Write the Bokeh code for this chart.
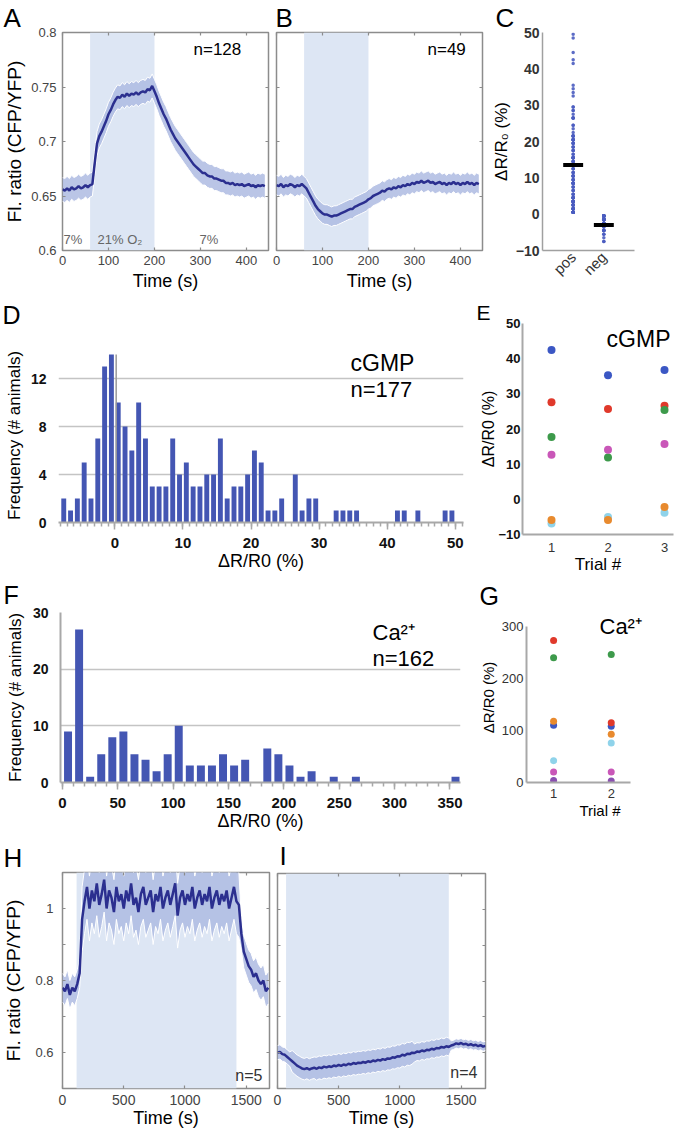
import math
from bokeh.plotting import figure
from bokeh.layouts import row, column
from bokeh.models import Range1d, LinearAxis, FixedTicker, SingleIntervalTicker, Label, Title
from bokeh.embed import file_html
from bokeh.resources import INLINE

FONT = "Liberation Sans"
TRACE = "#2b2f8f"
BAND = "#aebbe2"
SHADE = "#dde6f4"
BAR = "#4456b3"
GRAY = "#8c8c8c"
GRID = "#c4c4c4"

# ---------------- data ----------------
A_mean = [0.656, 0.655, 0.657, 0.655, 0.658, 0.656, 0.657, 0.659, 0.657, 0.658,
          0.660, 0.658, 0.660, 0.661, 0.680, 0.698, 0.705, 0.709, 0.714, 0.719,
          0.725, 0.729, 0.734, 0.738, 0.741, 0.740, 0.743, 0.741, 0.744, 0.742,
          0.744, 0.743, 0.745, 0.743, 0.745, 0.746, 0.745, 0.748, 0.747, 0.751,
          0.746, 0.741, 0.735, 0.730, 0.725, 0.721, 0.716, 0.711, 0.707, 0.703,
          0.700, 0.697, 0.694, 0.691, 0.688, 0.685, 0.682, 0.679, 0.677, 0.675,
          0.673, 0.671, 0.671, 0.669, 0.668, 0.668, 0.666, 0.666, 0.665, 0.664,
          0.664, 0.662, 0.662, 0.661, 0.662, 0.660, 0.661, 0.660, 0.661, 0.659,
          0.660, 0.661, 0.659, 0.660, 0.658, 0.660, 0.659, 0.660, 0.659]
A_sem = 0.011
B_mean = [0.660, 0.659, 0.661, 0.658, 0.660, 0.659, 0.661, 0.660, 0.658, 0.660,
          0.659, 0.661, 0.659, 0.657, 0.653, 0.649, 0.645, 0.641, 0.638, 0.636,
          0.634, 0.633, 0.633, 0.632, 0.631, 0.632, 0.632, 0.633, 0.634, 0.635,
          0.636, 0.637, 0.638, 0.638, 0.640, 0.641, 0.642, 0.643, 0.644, 0.645,
          0.647, 0.648, 0.650, 0.651, 0.652, 0.653, 0.655, 0.654, 0.656, 0.657,
          0.656, 0.658, 0.657, 0.659, 0.658, 0.660, 0.659, 0.661, 0.660, 0.662,
          0.661, 0.663, 0.662, 0.664, 0.662, 0.663, 0.664, 0.662, 0.663, 0.661,
          0.662, 0.663, 0.661, 0.662, 0.660, 0.662, 0.661, 0.663, 0.661, 0.662,
          0.660, 0.662, 0.661, 0.663, 0.661, 0.662, 0.660, 0.662, 0.661]
B_sem = 0.009
AB_step = 5
stim_AB = (60, 200)
n_A, n_B = "n=128", "n=49"

D_centers = [-7.5, -6.5, -5.5, -4.5, -3.5, -2.5, -1.5, -0.5,
             0.5, 1.5, 2.5, 3.5, 4.5, 5.5, 6.5, 7.5, 8.5, 9.5,
             10.5, 11.5, 12.5, 13.5, 14.5, 15.5, 16.5, 17.5, 18.5, 19.5,
             20.5, 21.5, 22.5, 23.5, 24.5, 25.5, 26.5, 27.5, 28.5, 29.5,
             30.5, 31.5, 32.5, 33.5, 34.5, 35.5, 36.5, 37.5, 38.5, 39.5,
             40.5, 41.5, 42.5, 43.5, 44.5, 45.5, 46.5, 47.5, 48.5, 49.5]
D_counts = [2, 1, 2, 5, 2, 7, 13, 14,
            10, 8, 6, 10, 7, 3, 3, 3, 7, 4,
            5, 3, 3, 4, 4, 7, 2, 3, 3, 4,
            6, 5, 1, 1, 2, 0, 4, 1, 2, 2,
            0, 0, 1, 1, 1, 1, 0, 0, 0, 0,
            0, 1, 1, 0, 1, 0, 0, 0, 1, 1]
D_marker_x = 0.2
D_marker_top = 14

C_pos = [c for c, n in zip(D_centers, D_counts) if c > 0 for _ in range(n)]
C_neg = [c for c, n in zip(D_centers, D_counts) if c < 0 for _ in range(n)]
C_cats = ["pos", "neg"]
C_means = [13.5, -3.0]

E_trials = [1, 2, 3]
E_series = [
    ("#3b57c4", [42.5, 35.3, 36.8]),
    ("#e0392b", [27.6, 25.7, 26.6]),
    ("#3d9a4b", [17.7, 11.9, 25.4]),
    ("#c957b8", [12.7, 14.1, 15.7]),
    ("#8fd3ea", [-6.9, -5.0, -3.8]),
    ("#e88a2e", [-5.9, -5.9, -2.2]),
]

F_centers = [5, 15, 25, 35, 45, 55, 65, 75, 85, 95, 105, 115, 125, 135, 145, 155,
             165, 175, 185, 195, 205, 215, 225, 235, 245, 255, 265, 275, 285, 295,
             305, 315, 325, 335, 345, 355]
F_counts = [9, 27, 1, 5, 8, 9, 5, 4, 2, 5, 10, 3, 3, 3, 5, 3,
            4, 0, 6, 5, 3, 1, 2, 0, 1, 0, 1, 0, 0, 0,
            0, 0, 0, 0, 0, 1]

G_trials = [1, 2]
G_series = [
    ("#8a4fb0", [4, 3]),
    ("#c957b8", [20, 20]),
    ("#8fd3ea", [42, 76]),
    ("#3b57c4", [110, 108]),
    ("#e88a2e", [118, 93]),
    ("#3d9a4b", [240, 246]),
    ("#e0392b", [273, 115]),
]

HI_step = 20
H_mean = [0.78, 0.77, 0.79, 0.76, 0.78, 0.77, 0.79, 0.82, 0.97, 1.02,
          1.06, 1.00, 1.05, 1.02, 1.07, 1.01, 1.04, 1.08, 1.00, 1.05,
          1.03, 0.99, 1.06, 1.02, 1.04, 1.00, 1.05, 1.02, 1.07, 1.01,
          1.03, 0.99, 1.04, 1.06, 1.01, 1.03, 1.05, 0.99, 1.04, 1.02,
          1.06, 1.00, 1.03, 1.05, 1.01, 1.04, 1.07, 0.98, 1.03, 1.05,
          1.01, 1.04, 1.02, 1.06, 1.00, 1.03, 1.05, 1.01, 1.04, 1.02,
          1.06, 1.00, 1.03, 1.05, 1.01, 1.04, 1.02, 1.05, 1.00, 1.03,
          1.06, 1.02, 1.01, 0.93, 0.88, 0.86, 0.84, 0.83, 0.81, 0.82,
          0.80, 0.79, 0.80, 0.77, 0.78]
H_sem = [0.04] * 8 + [0.09] * 65 + [0.045] * 12
stim_H = (115, 1420)
I_mean = [0.600, 0.602, 0.596, 0.594, 0.588, 0.582, 0.576, 0.570, 0.564, 0.560,
          0.556, 0.554, 0.557, 0.553, 0.556, 0.558, 0.555, 0.559, 0.557, 0.561,
          0.559, 0.562, 0.560, 0.564, 0.562, 0.566, 0.563, 0.567, 0.565, 0.569,
          0.567, 0.571, 0.569, 0.572, 0.571, 0.574, 0.572, 0.576, 0.574, 0.578,
          0.576, 0.580, 0.578, 0.582, 0.580, 0.584, 0.583, 0.587, 0.586, 0.590,
          0.589, 0.594, 0.592, 0.597, 0.596, 0.600, 0.599, 0.603, 0.602, 0.606,
          0.604, 0.608, 0.607, 0.611, 0.609, 0.613, 0.612, 0.616, 0.614, 0.618,
          0.616, 0.620, 0.622, 0.626, 0.624, 0.627, 0.623, 0.625, 0.621, 0.624,
          0.620, 0.622, 0.618, 0.621, 0.617, 0.619]
I_sem = [0.02] * 6 + [0.03] * 10 + [0.032] * 40 + [0.025] * 15 + [0.013] * 15
stim_I = (70, 1400)

# ---------------- helpers ----------------
def make_fig(w, h, xr, yr, left, right, top, bottom, outline=True):
    p = figure(width=w, height=h, x_range=Range1d(*xr), y_range=Range1d(*yr),
               toolbar_location=None, output_backend="svg",
               min_border_left=left, min_border_right=right,
               min_border_top=top, min_border_bottom=bottom)
    p.grid.visible = False
    p.outline_line_color = GRAY if outline else None
    p.outline_line_width = 1.5
    p.background_fill_color = "white"
    p.border_fill_color = "white"
    return p


def style_axis(ax, ticks=None, ticker=None, size=13, color="#444", bold=False,
               standoff=5, tick_in=0, tick_out=0, line_color=None, line_width=1.5,
               overrides=None, label=None, label_size=18, label_standoff=2):
    ax.ticker = ticker if ticker is not None else FixedTicker(ticks=ticks)
    ax.major_label_text_font = FONT
    ax.major_label_text_font_size = f"{size}px"
    ax.major_label_text_color = color
    ax.major_label_text_font_style = "bold" if bold else "normal"
    ax.major_label_standoff = standoff
    ax.major_tick_in = tick_in
    ax.major_tick_out = tick_out
    ax.major_tick_line_color = GRAY
    ax.major_tick_line_width = 1.2
    ax.minor_tick_line_color = None
    ax.axis_line_color = line_color
    ax.axis_line_width = line_width
    if overrides:
        ax.major_label_overrides = overrides
    if label:
        ax.axis_label = label
        ax.axis_label_text_font = FONT
        ax.axis_label_text_font_size = f"{label_size}px"
        ax.axis_label_text_font_style = "normal"
        ax.axis_label_text_color = "black"
        ax.axis_label_standoff = label_standoff


def ghost_axis(ax, ticks, tick_in=3, tick_out=0, color=GRAY):
    ax.ticker = FixedTicker(ticks=ticks)
    ax.major_label_text_font_size = "0px"
    ax.major_label_overrides = {t: "" for t in ticks}
    ax.major_label_standoff = 0
    ax.major_tick_in = tick_in
    ax.major_tick_out = tick_out
    ax.major_tick_line_color = color
    ax.major_tick_line_width = 1.2
    ax.minor_tick_line_color = None
    ax.axis_line_color = None


def inner_axes(p, xticks, yticks):
    top = LinearAxis()
    ghost_axis(top, xticks)
    p.add_layout(top, "above")
    right = LinearAxis()
    ghost_axis(right, yticks)
    p.add_layout(right, "right")


def letter(p, text, offset, spacer=0, size=26, tick=0):
    # an invisible axis used only to lift the panel letter above the frame
    if spacer > 0:
        sp = LinearAxis()
        ghost_axis(sp, [tick], tick_in=0, tick_out=spacer, color=None)
        p.add_layout(sp, "above")
    p.add_layout(Title(text=text, align="left", offset=offset, standoff=0,
                       vertical_align="bottom", text_font=FONT,
                       text_font_size=f"{size}px", text_font_style="normal",
                       text_color="black"), "above")


def txt(p, text, x, y, size, color="black", align="left"):
    p.add_layout(Label(x=x, y=y, x_units="screen", y_units="screen", text=text,
                       text_font=FONT, text_font_size=f"{size}px", text_color=color,
                       text_align=align, text_baseline="middle"))


def draw_trace(p, mean, sem, step, stim, yr):
    t = [i * step for i in range(len(mean))]
    p.quad(left=[stim[0]], right=[stim[1]], bottom=[yr[0]], top=[yr[1]],
           fill_color=SHADE, line_color=None)
    lo = [m - s for m, s in zip(mean, sem)]
    hi = [m + s for m, s in zip(mean, sem)]
    p.varea(x=t, y1=lo, y2=hi, fill_color=BAND, fill_alpha=0.85)
    p.line(t, lo, line_color="white", line_width=1)
    p.line(t, hi, line_color="white", line_width=1)
    p.line(t, mean, line_color=TRACE, line_width=2.5)


def hist_xaxis(ax, ticker, label, standoff):
    style_axis(ax, ticker=ticker, size=15, color="#111", bold=True, standoff=standoff,
               tick_out=7, line_color="#a8a8a8", line_width=2, label=label,
               label_size=18, label_standoff=0)
    ax.minor_tick_line_color = "#a8a8a8"
    ax.minor_tick_out = 4
    ax.minor_tick_in = 0
    ax.major_tick_line_color = "#a8a8a8"
    ax.major_tick_line_width = 1.5
    ax.minor_tick_line_width = 1.5


AB_yticks = [0.6, 0.65, 0.7, 0.75, 0.8]
AB_xticks = [0, 100, 200, 300, 400]
HI_yticks = [0.6, 0.7, 0.8, 0.9, 1.0]
HI_xticks = [0, 500, 1000, 1500]

# ---------------- A ----------------
pA = make_fig(272, 296, (0, 448), (0.6, 0.8), 62, 4, 32, 46)
draw_trace(pA, A_mean, [A_sem] * len(A_mean), AB_step, stim_AB, (0.6, 0.8))
style_axis(pA.yaxis[0], AB_yticks, size=13, color="#444", standoff=6, tick_in=3,
           overrides={0.6: "0.6", 0.65: "0.65", 0.7: "0.7", 0.75: "0.75", 0.8: "0.8"},
           label="Fl. ratio (CFP/YFP)", label_size=19, label_standoff=3)
style_axis(pA.xaxis[0], AB_xticks, size=13, color="#444", standoff=5, tick_in=3,
           label="Time (s)", label_size=18, label_standoff=3)
inner_axes(pA, AB_xticks, AB_yticks)
letter(pA, "A", -59)
txt(pA, n_A, 131, 201, 17)
txt(pA, "7%", 1, 11, 13, color="#666")
txt(pA, "21% O\u2082", 35, 11, 13, color="#666")
txt(pA, "7%", 137, 11, 13, color="#666")

# ---------------- B ----------------
pB = make_fig(214, 296, (0, 448), (0.6, 0.8), 4, 4, 32, 46)
draw_trace(pB, B_mean, [B_sem] * len(B_mean), AB_step, stim_AB, (0.6, 0.8))
ghost_axis(pB.yaxis[0], AB_yticks)
style_axis(pB.xaxis[0], AB_xticks, size=13, color="#444", standoff=5, tick_in=3,
           label="Time (s)", label_size=18, label_standoff=3)
inner_axes(pB, AB_xticks, AB_yticks)
letter(pB, "B", -1)
txt(pB, n_B, 151, 201, 17)

# ---------------- C ----------------
pC = make_fig(190, 296, (0, 3), (-10, 50), 56, 42, 32, 46, outline=False)
pC.scatter(x=[1] * len(C_pos), y=C_pos, size=3.5, fill_color="#4a5cc0",
           line_color=None, alpha=0.9)
pC.scatter(x=[2] * len(C_neg), y=C_neg, size=3.5, fill_color="#4a5cc0",
           line_color=None, alpha=0.9)
pC.rect(x=[1, 2], y=C_means, width=0.65, height=4, height_units="screen",
        fill_color="black", line_color=None)
style_axis(pC.yaxis[0], [-10, 0, 10, 20, 30, 40, 50], size=14, color="#333", bold=True,
           standoff=3, line_color="#a0a0a0", line_width=1.5,
           label="\u0394R/R\u2080 (%)", label_size=17, label_standoff=2)
style_axis(pC.xaxis[0], [1, 2], size=15, color="#333", standoff=4,
           line_color="#a0a0a0", line_width=1.5, overrides={1: C_cats[0], 2: C_cats[1]})
pC.xaxis[0].major_label_orientation = math.pi / 4
letter(pC, "C", -47)

# ---------------- D ----------------
pD = make_fig(476, 280, (-8.27, 51.2), (0, 14.5), 58, 13, 52, 54, outline=False)
pD.ygrid.visible = True
pD.ygrid.ticker = FixedTicker(ticks=[4, 8, 12])
pD.ygrid.grid_line_color = GRID
pD.ygrid.grid_line_width = 1.5
pD.vbar(x=D_centers, top=D_counts, width=0.72, fill_color=BAR, line_color=None)
pD.segment(x0=[D_marker_x], y0=[0], x1=[D_marker_x], y1=[D_marker_top],
           line_color="#9a9a9a", line_width=1.5)
style_axis(pD.yaxis[0], [0, 4, 8, 12], size=14, color="#111", bold=True, standoff=12,
           label="Frequency (# animals)", label_size=17, label_standoff=4)
hist_xaxis(pD.xaxis[0], SingleIntervalTicker(interval=10, num_minor_ticks=10),
           "\u0394R/R0 (%)", 8)
letter(pD, "D", -56, spacer=20, size=25, tick=0)
txt(pD, "cGMP", 292, 160, 23)
txt(pD, "n=177", 292, 133, 22)

# ---------------- F ----------------
pF = make_fig(476, 262, (-1.8, 359.5), (0, 30), 60, 16, 36, 56, outline=False)
pF.ygrid.visible = True
pF.ygrid.ticker = FixedTicker(ticks=[10, 20, 30])
pF.ygrid.grid_line_color = GRID
pF.ygrid.grid_line_width = 1.5
pF.vbar(x=F_centers, top=F_counts, width=7.2, fill_color=BAR, line_color=None)
style_axis(pF.yaxis[0], [0, 10, 20, 30], size=14, color="#111", bold=True, standoff=12,
           line_color="#a8a8a8", line_width=2,
           label="Frequency (# animals)", label_size=17, label_standoff=5)
hist_xaxis(pF.xaxis[0], SingleIntervalTicker(interval=50, num_minor_ticks=5),
           "\u0394R/R0 (%)", 8)
letter(pF, "F", -57, spacer=4, size=25, tick=100)
txt(pF, "Ca\u00b2\u207a", 312, 150, 22)
txt(pF, "n=162", 312, 124, 22)

# ---------------- E ----------------
pE = make_fig(200, 281, (0.487, 3.159), (-10, 50), 46, 3, 27, 43, outline=False)
for col, vals in E_series:
    pE.scatter(x=E_trials, y=vals, size=8, fill_color=col, line_color=None)
style_axis(pE.yaxis[0], [-10, 0, 10, 20, 30, 40, 50], size=13, color="#111", bold=True,
           standoff=2, line_color="#a8a8a8", line_width=2,
           label="\u0394R/R0 (%)", label_size=16, label_standoff=-2)
style_axis(pE.xaxis[0], E_trials, size=13, color="#333", standoff=8,
           line_color="#a8a8a8", line_width=2,
           label="Trial #", label_size=17, label_standoff=0)
letter(pE, "E", -46, size=21)
txt(pE, "cGMP", 148, 196, 23, align="right")

# ---------------- G ----------------
pG = make_fig(200, 261, (0.53, 3.08), (0, 326.9), 49, 3, 35, 56, outline=False)
for col, vals in G_series:
    pG.scatter(x=G_trials, y=vals, size=7, fill_color=col, line_color=None)
style_axis(pG.yaxis[0], [0, 100, 200, 300], size=13, color="#333", standoff=3,
           line_color="#a8a8a8", line_width=2,
           label="\u0394R/R0 (%)", label_size=15, label_standoff=2)
pG.yaxis[0].bounds = (0, 300)
style_axis(pG.xaxis[0], G_trials, size=13, color="#333", standoff=6,
           line_color="#a8a8a8", line_width=2,
           label="Trial #", label_size=15, label_standoff=1)
pG.xaxis[0].bounds = (0.53, 2.34)
letter(pG, "G", -47, spacer=3, size=25, tick=1)
txt(pG, "Ca\u00b2\u207a", 73, 156, 22)

# ---------------- H ----------------
pH = make_fig(273, 296, (0, 1690), (0.5, 1.1), 62, 4, 34, 46)
draw_trace(pH, H_mean, H_sem, HI_step, stim_H, (0.5, 1.1))
style_axis(pH.yaxis[0], HI_yticks, size=13, color="#444", standoff=9, tick_in=3,
           overrides={0.6: "0.6", 0.7: "", 0.8: "0.8", 0.9: "", 1: "1"},
           label="Fl. ratio (CFP/YFP)", label_size=19, label_standoff=8)
style_axis(pH.xaxis[0], HI_xticks, size=14, color="#444", standoff=6, tick_in=3,
           label="Time (s)", label_size=18, label_standoff=0)
inner_axes(pH, HI_xticks, HI_yticks)
letter(pH, "H", -59)
txt(pH, "n=5", 200, 13, 16, color="#333", align="right")

# ---------------- I ----------------
pI = make_fig(403, 296, (0, 1700), (0.5, 1.1), 4, 191, 34, 46)
draw_trace(pI, I_mean, I_sem, HI_step, stim_I, (0.5, 1.1))
ghost_axis(pI.yaxis[0], HI_yticks)
style_axis(pI.xaxis[0], HI_xticks, size=14, color="#444", standoff=6, tick_in=3,
           label="Time (s)", label_size=18, label_standoff=0)
inner_axes(pI, HI_xticks, HI_yticks)
letter(pI, "I", 2, spacer=3, tick=500)
txt(pI, "n=4", 200, 16, 16, color="#333", align="right")


def wrap(p):
    return column(p)


layout = column(
    row(wrap(pA), wrap(pB), wrap(pC)),
    row(column(wrap(pD), wrap(pF)), column(wrap(pE), wrap(pG))),
    row(wrap(pH), wrap(pI)),
)

open("out.html", "w").write(file_html(layout, INLINE))
